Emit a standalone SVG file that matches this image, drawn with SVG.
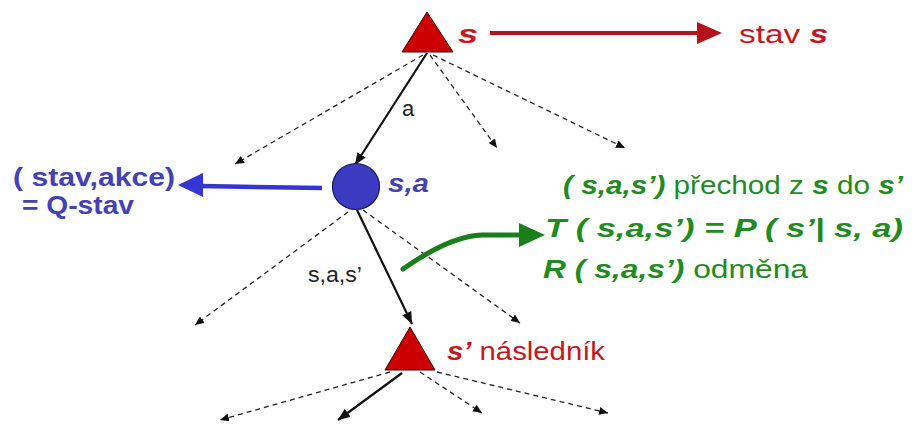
<svg xmlns="http://www.w3.org/2000/svg" width="923" height="425" viewBox="0 0 923 425">
<defs>
<style>
.t{font-family:"Liberation Sans",Arial,sans-serif}
.bi{font-weight:bold;font-style:italic}
.b{font-weight:bold}
.red{fill:#c8161e}
.blue{fill:#4242b4}
.green{fill:#1f8c1f}
.dash{stroke:#222;stroke-width:1.3;stroke-dasharray:5 4;fill:none;marker-end:url(#ad)}
.solid{stroke:#111;stroke-width:2.2;fill:none;marker-end:url(#as)}
.tri{fill:#cc0000;stroke:#3a0000;stroke-width:1}
</style>
<marker id="ad" markerUnits="userSpaceOnUse" markerWidth="9" markerHeight="8" refX="9" refY="4" orient="auto"><path d="M0,0 L9,4 L0,8 z" fill="#111"/></marker>
<marker id="as" markerUnits="userSpaceOnUse" markerWidth="12" markerHeight="10" refX="12" refY="5" orient="auto"><path d="M0,0 L12,5 L0,10 z" fill="#111"/></marker>
</defs>
<rect width="923" height="425" fill="#fff"/>
<g id="connectors">
<line class="dash" x1="423" y1="55" x2="235" y2="164"/>
<line class="solid" x1="427" y1="53" x2="355" y2="165"/>
<line class="dash" x1="430" y1="55" x2="497" y2="148"/>
<line class="dash" x1="433" y1="55" x2="625" y2="148"/>
<line class="dash" x1="348" y1="212" x2="195" y2="325"/>
<line class="solid" x1="357" y1="210" x2="412" y2="324"/>
<line class="dash" x1="363" y1="210" x2="520" y2="323"/>
<line class="dash" x1="390" y1="372" x2="220" y2="420"/>
<line class="solid" x1="402" y1="373" x2="338" y2="420"/>
<line class="dash" x1="420" y1="372" x2="482" y2="413"/>
<line class="dash" x1="437" y1="372" x2="608" y2="413"/>
<text class="t" x="402" y="116" font-size="22" fill="#222">a</text>
<text class="t" x="308" y="282" font-size="22" fill="#222" textLength="54" lengthAdjust="spacingAndGlyphs">s,a,s’</text>
</g>
<g id="node-s">
<polygon class="tri" points="427,12 402,52 453,52"/>
<text class="t bi red" x="458" y="43" font-size="26" textLength="20" lengthAdjust="spacingAndGlyphs">s</text>
</g>
<g id="state-label">
<line x1="490" y1="33" x2="699" y2="33" stroke="#b3141b" stroke-width="4"/>
<polygon points="697,22 722,33 697,44" fill="#b3141b"/>
<text class="t red" x="739" y="43" font-size="25" textLength="89" lengthAdjust="spacingAndGlyphs">stav <tspan class="bi">s</tspan></text>
</g>
<g id="node-sa">
<ellipse cx="356" cy="186.5" rx="23.5" ry="23" fill="#3c3cc2" stroke="#16165a" stroke-width="1.2"/>
<text class="t bi blue" x="388" y="192" font-size="25" textLength="41" lengthAdjust="spacingAndGlyphs">s,a</text>
</g>
<g id="qstate-label">
<line x1="322" y1="188" x2="200" y2="186" stroke="#3535d5" stroke-width="4.5"/>
<polygon points="203,173 178,185 203,197" fill="#3535d5"/>
<text class="t b blue" x="13" y="186" font-size="25" textLength="162" lengthAdjust="spacingAndGlyphs">( stav,akce)</text>
<text class="t b blue" x="22" y="214" font-size="25" textLength="112" lengthAdjust="spacingAndGlyphs">= Q-stav</text>
</g>
<g id="transition-label">
<path d="M403,269 Q450,236 482,235 L521,235" fill="none" stroke="#1a7f1a" stroke-width="5" stroke-linecap="round"/>
<polygon points="519,223 545,235 519,247" fill="#1a7f1a"/>
<text class="t green" x="563" y="194" font-size="26" textLength="340" lengthAdjust="spacingAndGlyphs"><tspan class="bi">( s,a,s’)</tspan> přechod z <tspan class="bi">s</tspan> do <tspan class="bi">s’</tspan></text>
<text class="t green bi" x="545" y="237" font-size="26" textLength="358" lengthAdjust="spacingAndGlyphs">T ( s,a,s’)  = P ( s’| s, a)</text>
<text class="t green" x="543" y="278" font-size="26" textLength="265" lengthAdjust="spacingAndGlyphs"><tspan class="bi">R ( s,a,s’)</tspan> odměna</text>
</g>
<g id="node-s2">
<polygon class="tri" points="410,327 385,370 435,370"/>
<text class="t red" x="447" y="360" font-size="25" textLength="158" lengthAdjust="spacingAndGlyphs"><tspan class="bi">s’</tspan> následník</text>
</g>
</svg>
